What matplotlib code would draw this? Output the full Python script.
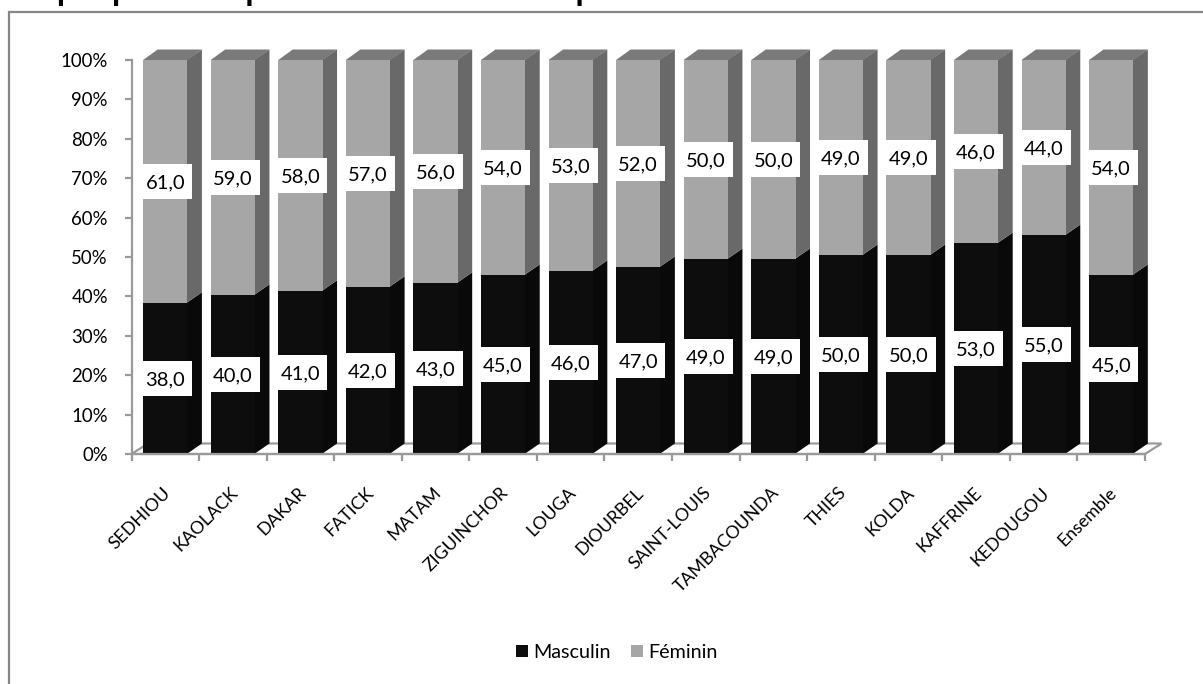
import matplotlib
matplotlib.use('Agg')
import matplotlib.pyplot as plt
from matplotlib.patches import Polygon, Rectangle
import numpy as np

plt.rcParams['font.family'] = ['Lato', 'DejaVu Sans']

regions = ['SEDHIOU', 'KAOLACK', 'DAKAR', 'FATICK', 'MATAM', 'ZIGUINCHOR', 'LOUGA', 'DIOURBEL',
           'SAINT-LOUIS', 'TAMBACOUNDA', 'THIES', 'KOLDA', 'KAFFRINE', 'KEDOUGOU', 'Ensemble']
masculin = [38.0, 40.0, 41.0, 42.0, 43.0, 45.0, 46.0, 47.0, 49.0, 49.0, 50.0, 50.0, 53.0, 55.0, 45.0]
feminin = [61.0, 59.0, 58.0, 57.0, 56.0, 54.0, 53.0, 52.0, 50.0, 50.0, 49.0, 49.0, 46.0, 44.0, 54.0]
yticks = [0, 10, 20, 30, 40, 50, 60, 70, 80, 90, 100]

W, H = 1203, 684
grey = '#868686'
axis_grey = '#9a9a9a'

fig = plt.figure(figsize=(W / 100, H / 100), dpi=100)
# axes box in pixels: ticks run from x=131.5 to 1145, 0% at y=454, 100% at y=60
ax = fig.add_axes([131.5 / W, 1 - 454 / H, (1145 - 131.5) / W, (454 - 60) / H])
ax.set_xlim(-0.5, 14.5)
ax.set_ylim(0, 100)
ax.patch.set_visible(False)
px_x = (1145 - 131.5) / 15   # pixels per category
px_y = (454 - 60) / 100      # pixels per percent

# chart frame, runs off the picture on the right and bottom
fig.add_artist(Rectangle((9 / W, -0.1), 1.2, 1.1 - 12 / H, transform=fig.transFigure,
                         fill=False, ec=grey, lw=1.6))

# the title is cut by the top of the picture, only the descenders are left
fig.text(5 / W, 1 - 0.5 / H, 'Graphique 5 : Répartition des étudiants par sexe',
         family=['Liberation Sans'], weight='bold', fontsize=21.6, va='baseline', ha='left', color='black')

x = np.arange(len(regions))
total = np.array(masculin) + np.array(feminin)
m_pct = np.array(masculin) / total * 100
f_pct = np.array(feminin) / total * 100

width = 0.655
dx = 14.5 / px_x   # depth of the 3d effect in data units
dy = 10.5 / px_y

# floor
floor_dx = 16.5 / px_x
ax.add_patch(Polygon([(-0.5, 0), (-0.5 + floor_dx, dy), (14.5 + floor_dx, dy), (14.5, 0)],
                     closed=True, fc='white', ec=axis_grey, lw=1.6, clip_on=False, zorder=1))

b1 = ax.bar(x, m_pct, width, color='#0d0d0d', label='Masculin', zorder=3)
b2 = ax.bar(x, f_pct, width, bottom=m_pct, color='#a6a6a6', label='Féminin', zorder=3)


def side(xc, lo, hi, color):
    r = xc + width / 2
    ax.add_patch(Polygon([(r - 0.01, lo), (r + dx, lo + dy), (r + dx, hi + dy), (r - 0.01, hi)], closed=True,
                         fc=color, ec='none', clip_on=False, zorder=2.5))


for i in x:
    side(i, 0, m_pct[i], '#090909')
    side(i, m_pct[i], 100, '#696969')
    l = i - width / 2
    r = i + width / 2
    ax.add_patch(Polygon([(l, 100), (l + dx, 100 + dy), (r + dx, 100 + dy), (r, 100)], closed=True,
                         fc='#7a7a7a', ec='none', clip_on=False, zorder=2.5))

# value labels on white boxes centred on the front face
box_w = 54 / px_x
box_h = 35 / px_y
for i in x:
    for val, mid in ((masculin[i], m_pct[i] / 2), (feminin[i], m_pct[i] + f_pct[i] / 2)):
        ax.add_patch(Rectangle((i - box_w / 2, mid - box_h / 2), box_w, box_h, fc='white', ec='none', zorder=5))
        ax.text(i, mid, f'{val:.1f}'.replace('.', ','), ha='center', va='center_baseline',
                fontsize=14.5, color='black', zorder=6)

for s in ('top', 'right'):
    ax.spines[s].set_visible(False)
for s in ('left', 'bottom'):
    ax.spines[s].set_color(axis_grey)
    ax.spines[s].set_linewidth(1.6)
    ax.spines[s].set_zorder(4)

ax.set_yticks(yticks)
ax.set_yticklabels([f'{t}%' for t in yticks], fontsize=13.4)
ax.set_xticks(np.arange(len(regions) + 1) - 0.5)
ax.set_xticklabels([])
ax.tick_params(axis='both', color=axis_grey, width=1.6, length=5)
ax.tick_params(axis='y', pad=12)

# category labels rotated 45 degrees, ending under the bars
for i, name in zip(x, regions):
    ax.annotate(name, (i, 0), xytext=(-2, -22), textcoords='offset points', rotation=45,
                rotation_mode='anchor', ha='right', va='top', fontsize=12.8, color='black')

ax.legend(handles=[b1, b2], loc='center', bbox_to_anchor=(617 / W, 1 - 652.5 / H),
          bbox_transform=fig.transFigure, ncol=2, frameon=False, fontsize=14.2, handlelength=0.58,
          handleheight=0.58, handletextpad=0.28, columnspacing=1.05, borderpad=0)

fig.savefig('out.png', dpi=100)
